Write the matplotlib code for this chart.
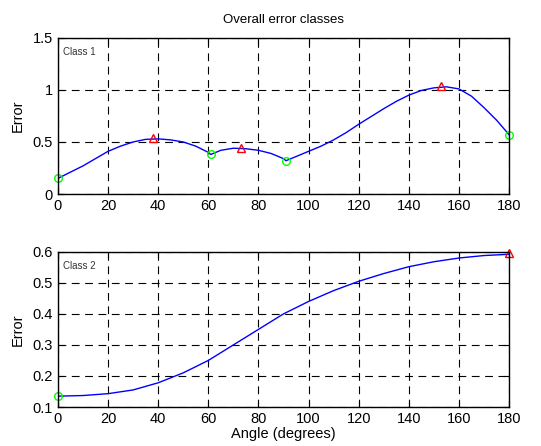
import numpy as np
import matplotlib
matplotlib.use("Agg")
import matplotlib.pyplot as plt

plt.rcParams['font.family'] = ['Liberation Sans', 'DejaVu Sans']

# class 1 error curve
angle1 = [0, 5, 10, 15, 20, 25, 30, 35, 40, 45, 50, 55, 60, 61, 65, 70, 75, 80, 85, 90, 91,
          95, 100, 105, 110, 115, 120, 125, 130, 135, 140, 145, 150, 155, 160, 165, 170, 175, 180]
err1 = [0.15, 0.21, 0.27, 0.34, 0.41, 0.46, 0.50, 0.525, 0.53, 0.52, 0.50, 0.46, 0.40, 0.38,
        0.42, 0.44, 0.435, 0.42, 0.39, 0.34, 0.32, 0.36, 0.41, 0.46, 0.52, 0.59, 0.67, 0.745,
        0.82, 0.89, 0.95, 0.995, 1.02, 1.03, 1.01, 0.94, 0.83, 0.71, 0.57]
min1_x = [0, 61, 91, 180]
min1_y = [0.15, 0.38, 0.32, 0.57]
max1_x = [38, 73, 153]
max1_y = [0.535, 0.44, 1.04]

# class 2 error curve
angle2 = [0, 10, 20, 30, 40, 50, 60, 70, 80, 90, 100, 110, 120, 130, 140, 150, 160, 170, 180]
err2 = [0.135, 0.137, 0.143, 0.155, 0.178, 0.21, 0.25, 0.30, 0.35, 0.40, 0.44, 0.475, 0.505,
        0.53, 0.552, 0.568, 0.58, 0.588, 0.592]
min2_x = [0]
min2_y = [0.135]
max2_x = [180]
max2_y = [0.595]


def style_axes(ax, ylim, yticks, label):
    ax.set_xlim(0, 180)
    ax.set_ylim(*ylim)
    ax.set_xticks(np.arange(0, 181, 20))
    ax.set_yticks(yticks)
    ax.set_yticklabels([f"{t:g}" for t in yticks])
    ax.tick_params(direction='in', labelsize=10.5, length=4, top=True, right=True)
    ax.grid(True, color='black', linestyle=(0, (7, 5)), linewidth=0.8)
    ax.set_ylabel("Error", fontsize=10.5, labelpad=6)
    ax.text(0.012, 0.94, label, transform=ax.transAxes, fontsize=7, va='top', ha='left',
            color='#333333')
    for s in ax.spines.values():
        s.set_linewidth(1.0)


fig = plt.figure(figsize=(5.41, 4.46), dpi=100)
ax1 = fig.add_axes([0.107, 0.565, 0.834, 0.35])
ax2 = fig.add_axes([0.107, 0.0874, 0.834, 0.348])

ax1.plot(angle1, err1, color='blue', linewidth=1.0)
ax1.plot(min1_x, min1_y, 'o', mfc='none', mec='#00ff00', ms=5.5, mew=1.0, clip_on=False)
ax1.plot(max1_x, max1_y, '^', mfc='none', mec='red', ms=6, mew=1.0, clip_on=False)
style_axes(ax1, (0, 1.5), [0, 0.5, 1, 1.5], "Class 1")
ax1.set_title("Overall error classes", fontsize=9.5, pad=11)

ax2.plot(angle2, err2, color='blue', linewidth=1.0)
ax2.plot(min2_x, min2_y, 'o', mfc='none', mec='#00ff00', ms=5.5, mew=1.0, clip_on=False)
ax2.plot(max2_x, max2_y, '^', mfc='none', mec='red', ms=6, mew=1.0, clip_on=False)
style_axes(ax2, (0.1, 0.6), [0.1, 0.2, 0.3, 0.4, 0.5, 0.6], "Class 2")
ax2.set_xlabel("Angle (degrees)", fontsize=10.5, labelpad=1)

fig.savefig("out.png", dpi=100)
